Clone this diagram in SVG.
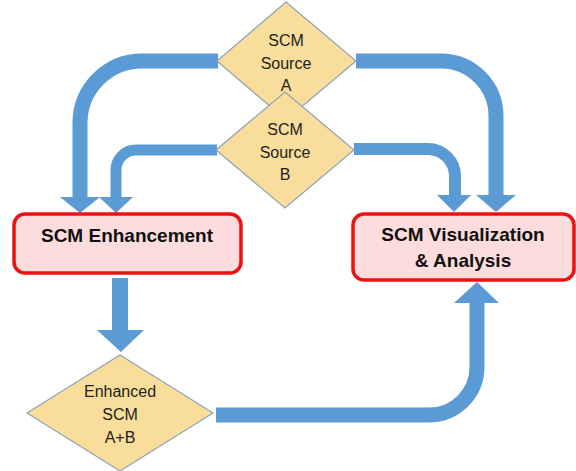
<svg xmlns="http://www.w3.org/2000/svg" width="576" height="471" viewBox="0 0 576 471">
<style>
.bg{fill:#ffffff}
.dia{fill:#f9dd9b;stroke:#8fa3b5;stroke-width:1.2}
.box{fill:#fcdcdc;stroke:#ee1111;stroke-width:3.5}
.dt{font-family:"Liberation Sans",Arial,sans-serif;font-size:16px;fill:#222;text-anchor:middle}
.bt{font-family:"Liberation Sans",Arial,sans-serif;font-size:19px;font-weight:bold;fill:#111;text-anchor:middle}
.sh{fill:none;stroke:#5b9bd5}
.hd{fill:#5b9bd5}
</style>
<rect class="bg" x="0" y="0" width="576" height="471"/>
<g id="connectors">
  <path class="sh" stroke-width="15" d="M218,61 H142 A62,62 0 0 0 80,123 V198"/>
  <polygon class="hd" points="60,197 100,197 80,213"/>
  <path class="sh" stroke-width="11" d="M217,150 H136 A20,20 0 0 0 116,170 V198"/>
  <polygon class="hd" points="99,197 133,197 116,213"/>
  <path class="sh" stroke-width="15" d="M356,61 H441 A55,55 0 0 1 496,116 V196"/>
  <polygon class="hd" points="476,195 516,195 496,212"/>
  <path class="sh" stroke-width="12" d="M354,149 H428 A27,27 0 0 1 455,176 V196"/>
  <polygon class="hd" points="437,195 471,195 454,212"/>
  <polygon class="hd" points="112,278 128,278 128,330 144,330 121,352 97,330 112,330"/>
  <path class="sh" stroke-width="15" d="M216,415 H429 A48,48 0 0 0 477,367 V302"/>
  <polygon class="hd" points="454,303 499,303 477,282"/>
</g>
<g id="source-a">
  <polygon class="dia" points="286,2 356,61 286,120 217,61"/>
  <text class="dt" x="286" y="46">SCM</text>
  <text class="dt" x="286" y="69">Source</text>
  <text class="dt" x="286" y="91">A</text>
</g>
<g id="source-b">
  <polygon class="dia" points="285,92 354,150 285,208 216,150"/>
  <text class="dt" x="285" y="135">SCM</text>
  <text class="dt" x="285" y="158">Source</text>
  <text class="dt" x="285" y="180">B</text>
</g>
<g id="enhancement">
  <rect class="box" x="14" y="214" width="227" height="59" rx="11"/>
  <text class="bt" x="127" y="242">SCM Enhancement</text>
</g>
<g id="visualization">
  <rect class="box" x="353" y="214" width="221" height="66" rx="11"/>
  <text class="bt" x="463" y="241">SCM Visualization</text>
  <text class="bt" x="463" y="267">&amp; Analysis</text>
</g>
<g id="enhanced">
  <polygon class="dia" points="120,355 213,413 120,471 27,413"/>
  <text class="dt" x="120" y="397">Enhanced</text>
  <text class="dt" x="120" y="420">SCM</text>
  <text class="dt" x="120" y="443">A+B</text>
</g>
</svg>
